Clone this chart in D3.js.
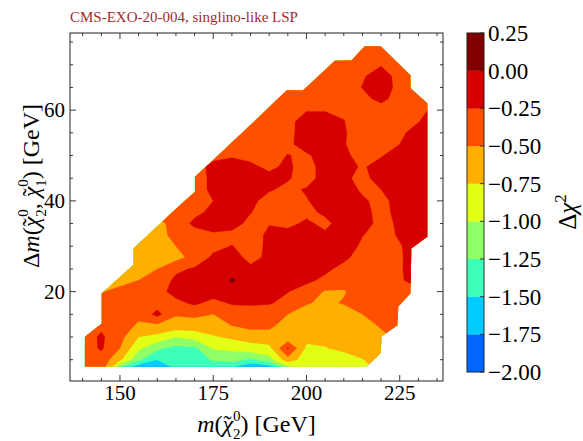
<!DOCTYPE html>
<html>
<head>
<meta charset="utf-8">
<script src="https://cdn.jsdelivr.net/npm/d3@7"></script>
<style>
html,body{margin:0;padding:0;background:#fff;}
svg{display:block;}
text{font-family:"Liberation Serif","Times New Roman",serif;fill:#000;white-space:pre;}
</style>
</head>
<body>
<svg id="chart" width="583" height="441"></svg>
<script>
// ---------------- data ----------------
const titleText = "CMS-EXO-20-004, singlino-like LSP";

// grid nodes: m(chi2) [GeV] (columns) and Delta m [GeV] (rows, top to bottom)
const massX = [140,145,150,155,160,165,170,175,180,185,190,195,200,205,210,215,220,225,230,235];
const deltaMY = [75,72.5,70,67.5,65,62.5,60,57.5,55,52.5,50,47.5,45,42.5,40,37.5,35,32.5,30,27.5,25,22.5,20,17.5,15,12.5,10,7.5,5,2.5];

// Delta chi^2, one row per deltaMY value
const deltaChi2 = [
 [-0.40,-0.40,-0.40,-0.40,-0.40,-0.40,-0.40,-0.40,-0.40,-0.40,-0.40,-0.40,-0.40,-0.40,-0.40,-0.38,-0.38,-0.40,-0.40,-0.40],
 [-0.40,-0.40,-0.40,-0.40,-0.40,-0.40,-0.40,-0.40,-0.40,-0.40,-0.40,-0.40,-0.40,-0.40,-0.40,-0.35,-0.35,-0.40,-0.40,-0.40],
 [-0.40,-0.40,-0.40,-0.40,-0.40,-0.40,-0.40,-0.40,-0.40,-0.40,-0.40,-0.40,-0.40,-0.40,-0.38,-0.35,-0.27,-0.38,-0.40,-0.40],
 [-0.40,-0.40,-0.40,-0.40,-0.40,-0.40,-0.40,-0.40,-0.40,-0.40,-0.40,-0.40,-0.40,-0.40,-0.38,-0.28,-0.12,-0.35,-0.38,-0.38],
 [-0.40,-0.40,-0.40,-0.40,-0.40,-0.40,-0.40,-0.40,-0.40,-0.40,-0.40,-0.40,-0.40,-0.40,-0.38,-0.24,-0.10,-0.34,-0.38,-0.35],
 [-0.40,-0.40,-0.40,-0.40,-0.40,-0.40,-0.40,-0.40,-0.40,-0.40,-0.40,-0.38,-0.36,-0.36,-0.38,-0.32,-0.18,-0.36,-0.34,-0.30],
 [-0.40,-0.40,-0.40,-0.40,-0.40,-0.40,-0.40,-0.40,-0.40,-0.40,-0.40,-0.40,-0.27,-0.27,-0.30,-0.38,-0.36,-0.35,-0.30,-0.20],
 [-0.40,-0.40,-0.40,-0.40,-0.40,-0.40,-0.40,-0.40,-0.40,-0.40,-0.40,-0.35,-0.10,-0.10,-0.24,-0.40,-0.36,-0.34,-0.26,-0.10],
 [-0.40,-0.40,-0.40,-0.40,-0.40,-0.40,-0.40,-0.40,-0.40,-0.40,-0.40,-0.35,-0.08,-0.05,-0.22,-0.40,-0.35,-0.30,-0.15,-0.10],
 [-0.40,-0.40,-0.40,-0.40,-0.40,-0.40,-0.40,-0.40,-0.40,-0.40,-0.40,-0.32,-0.10,-0.05,-0.23,-0.40,-0.35,-0.25,-0.10,-0.10],
 [-0.40,-0.40,-0.40,-0.40,-0.40,-0.40,-0.40,-0.32,-0.28,-0.32,-0.35,-0.24,-0.30,-0.10,-0.22,-0.30,-0.27,-0.12,-0.10,-0.10],
 [-0.40,-0.40,-0.40,-0.40,-0.40,-0.40,-0.35,-0.18,-0.12,-0.20,-0.30,-0.20,-0.38,-0.12,-0.15,-0.28,-0.15,-0.10,-0.10,-0.10],
 [-0.40,-0.40,-0.40,-0.40,-0.40,-0.40,-0.35,-0.20,-0.10,-0.15,-0.18,-0.22,-0.38,-0.12,-0.20,-0.32,-0.15,-0.10,-0.10,-0.10],
 [-0.40,-0.40,-0.40,-0.40,-0.40,-0.40,-0.35,-0.20,-0.10,-0.12,-0.22,-0.32,-0.22,-0.10,-0.10,-0.30,-0.25,-0.12,-0.10,-0.10],
 [-0.40,-0.40,-0.40,-0.40,-0.40,-0.40,-0.35,-0.25,-0.10,-0.18,-0.36,-0.40,-0.27,-0.12,-0.10,-0.20,-0.35,-0.12,-0.10,-0.10],
 [-0.40,-0.40,-0.40,-0.40,-0.40,-0.35,-0.30,-0.20,-0.10,-0.24,-0.36,-0.40,-0.32,-0.20,-0.12,-0.15,-0.35,-0.15,-0.10,-0.10],
 [-0.40,-0.40,-0.40,-0.45,-0.60,-0.38,-0.20,-0.15,-0.15,-0.32,-0.26,-0.32,-0.20,-0.32,-0.12,-0.12,-0.35,-0.20,-0.10,-0.10],
 [-0.45,-0.45,-0.50,-0.60,-0.62,-0.40,-0.35,-0.28,-0.32,-0.36,-0.20,-0.15,-0.15,-0.20,-0.10,-0.24,-0.35,-0.22,-0.10,-0.10],
 [-0.50,-0.55,-0.60,-0.55,-0.62,-0.50,-0.42,-0.32,-0.24,-0.35,-0.20,-0.15,-0.10,-0.10,-0.10,-0.30,-0.38,-0.27,-0.12,-0.12],
 [-0.55,-0.60,-0.60,-0.65,-0.65,-0.58,-0.42,-0.20,-0.15,-0.32,-0.20,-0.15,-0.10,-0.10,-0.20,-0.35,-0.38,-0.28,-0.12,-0.12],
 [-0.50,-0.55,-0.62,-0.62,-0.50,-0.30,-0.22,-0.15,-0.10,-0.20,-0.18,-0.10,-0.12,-0.20,-0.32,-0.38,-0.35,-0.27,-0.15,-0.15],
 [-0.40,-0.60,-0.60,-0.50,-0.40,-0.20,-0.12,-0.15, 0.03,-0.10,-0.10,-0.15,-0.20,-0.30,-0.40,-0.38,-0.35,-0.28,-0.15,-0.15],
 [-0.40,-0.52,-0.42,-0.38,-0.35,-0.15,-0.12,-0.12,-0.10,-0.10,-0.12,-0.24,-0.35,-0.52,-0.52,-0.38,-0.35,-0.30,-0.30,-0.35],
 [-0.38,-0.35,-0.40,-0.35,-0.35,-0.32,-0.20,-0.33,-0.22,-0.22,-0.22,-0.35,-0.48,-0.55,-0.48,-0.40,-0.35,-0.35,-0.35,-0.35],
 [-0.38,-0.32,-0.35,-0.42,-0.18,-0.48,-0.45,-0.50,-0.40,-0.35,-0.45,-0.50,-0.60,-0.65,-0.62,-0.50,-0.42,-0.40,-0.40,-0.40],
 [-0.38,-0.30,-0.35,-0.55,-0.55,-0.60,-0.62,-0.58,-0.50,-0.42,-0.45,-0.60,-0.65,-0.65,-0.62,-0.58,-0.48,-0.42,-0.40,-0.40],
 [-0.38,-0.21,-0.42,-0.75,-0.82,-1.00,-0.90,-0.78,-0.70,-0.65,-0.60,-0.68,-0.68,-0.70,-0.65,-0.62,-0.55,-0.45,-0.40,-0.40],
 [-0.38,-0.22,-0.50,-0.95,-1.20,-1.32,-1.30,-0.98,-0.95,-0.85,-0.82,-0.22,-0.80,-0.76,-0.70,-0.65,-0.62,-0.55,-0.50,-0.50],
 [-0.38,-0.35,-0.70,-1.20,-1.50,-1.38,-1.40,-1.22,-1.15,-1.30,-1.10,-0.60,-0.90,-0.88,-0.85,-0.76,-0.65,-0.60,-0.60,-0.60],
 [-0.40,-0.40,-1.50,-1.90,-1.81,-1.52,-1.40,-1.49,-1.67,-1.93,-1.93,-1.32,-1.00,-0.95,-0.92,-0.85,-0.70,-0.60,-0.60,-0.60]
];

// outline of the scanned region (m, Delta m)
const regionMassX   = [140.6,140.6,145.1,145.1,153.6,153.6,166.1,170.1,170.1,175.9,187.5,194.7,199.1,207.6,212.1,215.6,219.9,227.9,227.9,232.4,232.4,228.1,227.9,224.6,224.4,220.1,219.9,216.1];
const regionDeltaMY = [3.46,10.07,13.0,19.6,25.9,29.5,39.1,42.0,45.3,49.7,58.7,64.4,64.4,70.9,71.0,74.1,74.1,67.7,64.8,61.5,32.1,29.5,19.6,16.7,12.6,10.1,6.4,3.46];

const levels = [-2,-1.75,-1.5,-1.25,-1,-0.75,-0.5,-0.25,0,0.25];
const levelColors = ["#0066ff","#00ccff","#3effb9","#90ff67","#e2ff15","#ffaf00","#ff5000","#d60000","#800000"];
const colorbarLabels = ["\u22122.00","\u22121.75","\u22121.50","\u22121.25","\u22121.00","\u22120.75","\u22120.50","\u22120.25","0.00","0.25"];

const xTickValues = [150,175,200,225];
const xMinorTicks = [140,145,155,160,165,170,180,185,190,195,205,210,215,220,230,235];
const yTickValues = [20,40,60];
const yMinorTicks = [5,10,15,25,30,35,45,50,55,65,70,75];

// ---------------- drawing ----------------
const svg = d3.select("#chart");
const M = {left:70, right:443, top:33, bottom:381};
const x = d3.scaleLinear().domain([136.6,236.6]).range([M.left, M.right]);
const y = d3.scaleLinear().domain([0.3,77]).range([M.bottom, M.top]);

const defs = svg.append("defs");
defs.append("clipPath").attr("id","region").append("path")
  .attr("d", d3.line().x(d=>x(d[0])).y(d=>y(d[1])).curve(d3.curveLinearClosed)(
     regionMassX.map((v,i)=>[v, regionDeltaMY[i]])));

const nx = massX.length, ny = deltaMY.length;
const stepX = massX[1]-massX[0], stepY = deltaMY[0]-deltaMY[1];
const bands = d3.contours().size([nx, ny]).thresholds(levels.slice(0,-1))(deltaChi2.flat());
const proj = d3.geoTransform({point:function(gx,gy){
  this.stream.point(x(massX[0] + (gx-0.5)*stepX), y(deltaMY[0] - (gy-0.5)*stepY));
}});
const path = d3.geoPath(proj);
const color = d3.scaleThreshold().domain(levels.slice(1,-1)).range(levelColors);

svg.append("g").attr("clip-path","url(#region)")
  .selectAll("path").data(bands).join("path")
  .attr("d", path)
  .attr("fill", d=>color(d.value))
  .attr("stroke", d=>color(d.value))
  .attr("stroke-width", 0.3);

// frame
svg.append("rect").attr("x",M.left).attr("y",M.top)
  .attr("width",M.right-M.left).attr("height",M.bottom-M.top)
  .attr("fill","none").attr("stroke","#222").attr("stroke-width",1);

// ticks (inward, all four sides)
const tg = svg.append("g").attr("stroke","#222").attr("stroke-width",0.9);
function xTicks(vals, len){
  vals.forEach(v=>{
    tg.append("line").attr("x1",x(v)).attr("x2",x(v)).attr("y1",M.bottom).attr("y2",M.bottom-len);
    tg.append("line").attr("x1",x(v)).attr("x2",x(v)).attr("y1",M.top).attr("y2",M.top+len);
  });
}
function yTicks(vals, len){
  vals.forEach(v=>{
    tg.append("line").attr("y1",y(v)).attr("y2",y(v)).attr("x1",M.left).attr("x2",M.left+len);
    tg.append("line").attr("y1",y(v)).attr("y2",y(v)).attr("x1",M.right).attr("x2",M.right-len);
  });
}
xTicks(xMinorTicks, 3); xTicks(xTickValues, 6);
yTicks(yMinorTicks, 3); yTicks(yTickValues, 6);

svg.append("g").selectAll("text").data(xTickValues).join("text")
  .attr("x", d=>x(d)).attr("y", 400).attr("text-anchor","middle")
  .attr("font-size",21).text(d=>d);
svg.append("g").selectAll("text").data(yTickValues).join("text")
  .attr("x", 65).attr("y", d=>y(d)+7).attr("text-anchor","end")
  .attr("font-size",21).text(d=>d);

// math helper
function addMath(t, parts){
  parts.forEach(p=>{
    const s = t.append("tspan").text(p.t);
    if(p.it) s.attr("font-style","italic");
    if(p.size) s.attr("font-size",p.size);
    if(p.dx!=null) s.attr("dx",p.dx);
    if(p.dy!=null) s.attr("dy",p.dy);
  });
}
// chi-tilde with stacked super/subscript
function chiTilde(sup, sub){
  return [{t:"\u03c7",it:1},{t:"\u02dc",dx:-9.5},{t:sup,size:15,dx:1.5,dy:-11},{t:sub,size:15,dx:-7.5,dy:18}];
}

// x label
const xl = svg.append("text").attr("x",(M.left+M.right)/2).attr("y",432)
  .attr("text-anchor","middle").attr("font-size",24);
addMath(xl,[{t:"m",it:1},{t:"("}].concat(chiTilde("0","2"),[{t:")",dy:-7},{t:" [GeV]"}]));

// y label
const yl = svg.append("text").attr("transform","translate(39,186) rotate(-90)")
  .attr("text-anchor","middle").attr("font-size",24);
addMath(yl,[{t:"\u0394"},{t:"m",it:1},{t:"("}].concat(chiTilde("0","2"),[{t:", ",dy:-7}],
  chiTilde("0","1"),[{t:")",dy:-7},{t:" [GeV]"}]));

// title
svg.append("text").attr("x",M.left).attr("y",22).attr("font-size",15)
  .style("fill","#a52a2a").text(titleText);

// colorbar
const CB = {x:467, w:17, top:33, bottom:372};
const cb = d3.scaleLinear().domain([levels[0], levels[levels.length-1]]).range([CB.bottom, CB.top]);
svg.append("g").selectAll("rect").data(levelColors).join("rect")
  .attr("x",CB.x).attr("width",CB.w)
  .attr("y",(c,i)=>cb(levels[i+1])).attr("height",(c,i)=>cb(levels[i])-cb(levels[i+1]))
  .attr("fill",c=>c).attr("stroke",c=>c).attr("stroke-width",0.3);
svg.append("rect").attr("x",CB.x).attr("y",CB.top).attr("width",CB.w).attr("height",CB.bottom-CB.top)
  .attr("fill","none").attr("stroke","#222").attr("stroke-width",0.9);
svg.append("g").attr("stroke","#222").attr("stroke-width",0.9)
  .selectAll("line").data(levels).join("line")
  .attr("x1",CB.x+CB.w).attr("x2",CB.x+CB.w-4).attr("y1",d=>cb(d)).attr("y2",d=>cb(d));
svg.append("g").selectAll("text").data(levels).join("text")
  .attr("x",CB.x+CB.w+4).attr("y",d=>cb(d)+8).attr("font-size",23)
  .text((d,i)=>colorbarLabels[i]);

const cl = svg.append("text").attr("transform","translate(576,212) rotate(-90)")
  .attr("text-anchor","middle").attr("font-size",25);
addMath(cl,[{t:"\u0394"},{t:"\u03c7",it:1},{t:"2",size:17,dy:-10}]);
</script>
</body>
</html>
